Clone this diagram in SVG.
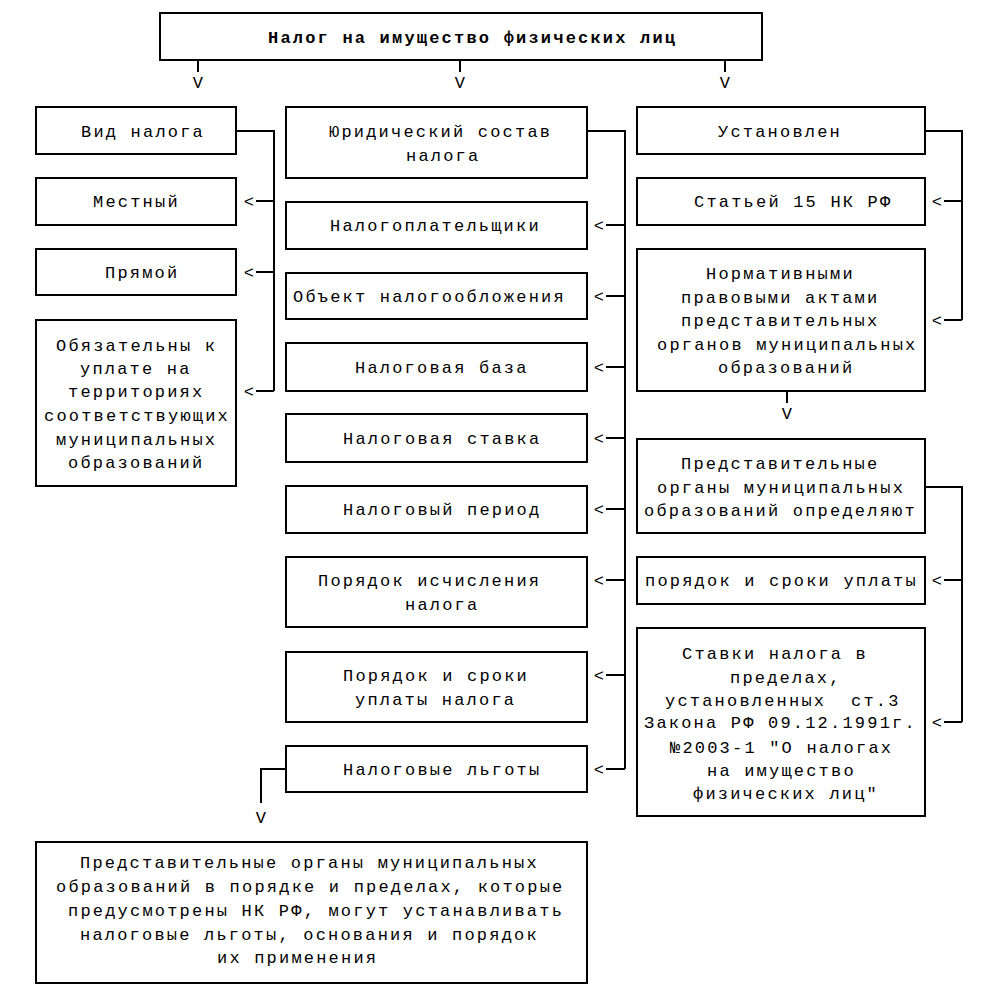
<svg xmlns="http://www.w3.org/2000/svg" width="1007" height="1001" viewBox="0 0 1007 1001">
<style>
.box{fill:#fff;stroke:#000;stroke-width:2}
.c{fill:none;stroke:#000;stroke-width:2}
text{font-family:"Liberation Mono","DejaVu Sans Mono",monospace;font-size:17px;letter-spacing:2.2px;fill:#000}
.b{font-weight:bold}
.m{text-anchor:middle}
</style>
<rect width="1007" height="1001" fill="#fff"/>
<g id="connectors">
<path class="c" d="M198,60V72M460,60V72M725,60V72"/>
<text class="m" x="199" y="88">V</text>
<text class="m" x="461" y="88">V</text>
<text class="m" x="726" y="88">V</text>
<path class="c" d="M236,131H274V391M256,201H274M256,272H274M256,391H274"/>
<text class="m" x="250" y="207">&lt;</text>
<text class="m" x="250" y="278">&lt;</text>
<text class="m" x="250" y="397">&lt;</text>
<path class="c" d="M587,131H625V769M606,225H625M606,296H625M606,367H625M606,438H625M606,509H625M606,580H625M606,675H625M606,769H625"/>
<text class="m" x="600" y="231">&lt;</text>
<text class="m" x="600" y="302">&lt;</text>
<text class="m" x="600" y="373">&lt;</text>
<text class="m" x="600" y="444">&lt;</text>
<text class="m" x="600" y="515">&lt;</text>
<text class="m" x="600" y="586">&lt;</text>
<text class="m" x="600" y="681">&lt;</text>
<text class="m" x="600" y="775">&lt;</text>
<path class="c" d="M925,131H962V320M944,201H962M944,320H962"/>
<text class="m" x="938" y="207">&lt;</text>
<text class="m" x="938" y="326">&lt;</text>
<path class="c" d="M925,487H962V722M944,580H962M944,722H962"/>
<text class="m" x="938" y="586">&lt;</text>
<text class="m" x="938" y="728">&lt;</text>
<path class="c" d="M787,391V403"/>
<text class="m" x="788" y="419">V</text>
<path class="c" d="M286,769H261V803"/>
<text class="m" x="262" y="823">V</text>
</g>
<g id="n_title">
<rect class="box" x="160" y="13" width="602" height="47"/>
<text class="b" x="268" y="43">Налог на имущество физических лиц</text>
</g>
<g id="n_vid">
<rect class="box" x="36" y="107" width="200" height="47"/>
<text x="81" y="137">Вид налога</text>
</g>
<g id="n_mestny">
<rect class="box" x="36" y="178" width="200" height="47"/>
<text x="93" y="207">Местный</text>
</g>
<g id="n_pryamoy">
<rect class="box" x="36" y="249" width="200" height="46"/>
<text x="105" y="278">Прямой</text>
</g>
<g id="n_obyaz">
<rect class="box" x="36" y="320" width="200" height="166"/>
<text x="56" y="351">Обязательны к</text>
<text x="80" y="374">уплате на</text>
<text x="68" y="397">территориях</text>
<text x="44" y="421">соответствующих</text>
<text x="56" y="445">муниципальных</text>
<text x="68" y="468">образований</text>
</g>
<g id="n_yur">
<rect class="box" x="286" y="107" width="301" height="71"/>
<text x="329" y="137">Юридический состав</text>
<text x="406" y="161">налога</text>
</g>
<g id="n_nalogopl">
<rect class="box" x="286" y="202" width="301" height="47"/>
<text x="330" y="231">Налогоплательщики</text>
</g>
<g id="n_obekt">
<rect class="box" x="286" y="273" width="301" height="46"/>
<text x="293" y="302">Объект налогообложения</text>
</g>
<g id="n_baza">
<rect class="box" x="286" y="343" width="301" height="48"/>
<text x="355" y="373">Налоговая база</text>
</g>
<g id="n_stavka">
<rect class="box" x="286" y="414" width="301" height="48"/>
<text x="343" y="444">Налоговая ставка</text>
</g>
<g id="n_period">
<rect class="box" x="286" y="486" width="301" height="47"/>
<text x="343" y="515">Налоговый период</text>
</g>
<g id="n_ischisl">
<rect class="box" x="286" y="557" width="301" height="70"/>
<text x="318" y="586">Порядок исчисления</text>
<text x="405" y="610">налога</text>
</g>
<g id="n_sroki">
<rect class="box" x="286" y="652" width="301" height="70"/>
<text x="343" y="681">Порядок и сроки</text>
<text x="355" y="705">уплаты налога</text>
</g>
<g id="n_lgoty">
<rect class="box" x="286" y="746" width="301" height="46"/>
<text x="343" y="775">Налоговые льготы</text>
</g>
<g id="n_ustanovlen">
<rect class="box" x="637" y="107" width="288" height="47"/>
<text x="718" y="137">Установлен</text>
</g>
<g id="n_st15">
<rect class="box" x="637" y="178" width="288" height="47"/>
<text x="694" y="207">Статьей 15 НК РФ</text>
</g>
<g id="n_normativ">
<rect class="box" x="637" y="249" width="288" height="142"/>
<text x="706" y="279">Нормативными</text>
<text x="681" y="303">правовыми актами</text>
<text x="681" y="326">представительных</text>
<text x="657" y="350">органов муниципальных</text>
<text x="718" y="373">образований</text>
</g>
<g id="n_predst">
<rect class="box" x="637" y="439" width="288" height="94"/>
<text x="681" y="469">Представительные</text>
<text x="657" y="493">органы муниципальных</text>
<text x="644" y="516">образований определяют</text>
</g>
<g id="n_poryadok">
<rect class="box" x="637" y="557" width="288" height="47"/>
<text x="645" y="586">порядок и сроки уплаты</text>
</g>
<g id="n_stavki">
<rect class="box" x="637" y="628" width="288" height="188"/>
<text x="682" y="659">Ставки налога в</text>
<text x="730" y="683">пределах,</text>
<text x="665" y="706" xml:space="preserve">установленных  ст.3</text>
<text x="644" y="728">Закона РФ 09.12.1991г.</text>
<text x="670" y="753">№2003-1 "О налогах</text>
<text x="707" y="776">на имущество</text>
<text x="693" y="799">физических лиц"</text>
</g>
<g id="n_bottom">
<rect class="box" x="36" y="842" width="551" height="141"/>
<text x="80" y="868">Представительные органы муниципальных</text>
<text x="56" y="892">образований в порядке и пределах, которые</text>
<text x="68" y="916">предусмотрены НК РФ, могут устанавливать</text>
<text x="80" y="940">налоговые льготы, основания и порядок</text>
<text x="217" y="963">их применения</text>
</g>
</svg>
